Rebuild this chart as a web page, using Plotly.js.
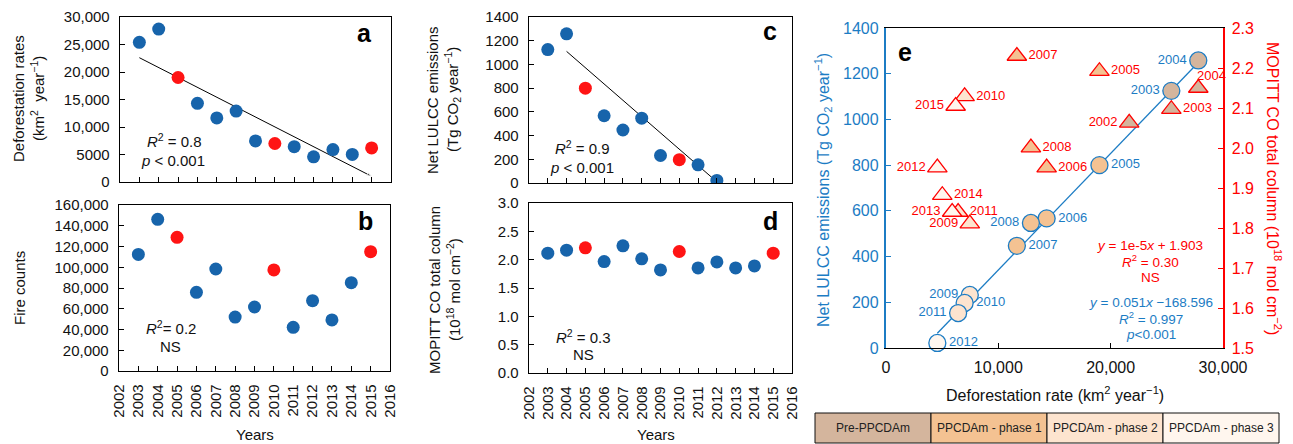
<!DOCTYPE html>
<html><head><meta charset="utf-8">
<script src="https://cdn.plot.ly/plotly-3.0.1.min.js"></script>
<style>html,body{margin:0;padding:0;background:#fff;}#chart{width:1293px;height:444px;}</style>
</head><body><div id="chart"></div>
<script>
// ---------- data ----------
const years = [2003,2004,2005,2006,2007,2008,2009,2010,2011,2012,2013,2014,2015];
const deforestation = [25400,27800,19000,14300,11650,12900,7460,7000,6420,4570,5890,5010,6200];
const fireCounts = [112400,146200,128800,75800,98300,52000,61700,97400,42100,67800,49200,85100,115000];
const coColumn = [2.114,2.167,2.209,1.967,2.244,2.014,1.819,2.144,1.854,1.961,1.854,1.890,2.114];
const lulccYears = [2003,2004,2005,2006,2007,2008,2009,2010,2011,2012];
const lulccEmissions = [1125,1258,800,567,447,547,232,197,153,22];
const highlightYears = [2005,2010,2015];

const eYears = [2002,2003,2004,2005,2006,2007,2008,2009,2010,2011,2012,2013,2014,2015];
const eDeforestation = [21650,25400,27800,19000,14300,11650,12900,7460,7000,6420,4570,5890,5010,6200];
const eCO = [2.063,2.097,2.150,2.192,1.951,2.230,2.001,1.811,2.129,1.840,1.951,1.840,1.882,2.105];
const ePhase = [0,0,0,1,1,1,1,2,2,2,3,3,3,3];
const eCircleYears = [2003,2004,2005,2006,2007,2008,2009,2010,2011,2012];
const eCircleDeforestation = [25400,27800,19000,14300,11650,12900,7460,7000,6420,4570];
const eCircleLulcc = [1125,1258,800,567,447,547,232,197,153,22];
const eCirclePhase = [0,0,1,1,1,1,2,2,2,3];
const eCircleLabelPos = ['middle left','middle left','middle right','middle right','middle right','middle left','middle left','middle right','middle left','middle right'];
const eTriLabelPos = ['middle left','middle right','top right','middle right','middle right','middle right','middle right','middle left','middle right','middle right','middle left','middle left','middle right','middle left'];
const eTriLabelAboveYear = 2004; // this label sits just above its triangle, starting at its centre
const lulccSlope = 0.051, lulccIntercept = -168.596;

// trend of panel c
const trendCYears = [2004, 2012];
const trendCValues = [1110, 10];

// tick labels
const yearTicks = [2002,2003,2004,2005,2006,2007,2008,2009,2010,2011,2012,2013,2014,2015,2016];
const aTickVals = [0,5000,10000,15000,20000,25000,30000];
const aTickText = ['0','5000','10,000','15,000','20,000','25,000','30,000'];
const bTickVals = [0,20000,40000,60000,80000,100000,120000,140000,160000];
const bTickText = ['0','20,000','40,000','60,000','80,000','100,000','120,000','140,000','160,000'];
const cTickVals = [0,200,400,600,800,1000,1200,1400];
const dTickVals = [0,0.5,1,1.5,2,2.5,3];
const eXTickVals = [0,10000,20000,30000];
const eXTickText = ['0','10,000','20,000','30,000'];
const eY2TickVals = [1.5,1.6,1.7,1.8,1.9,2.0,2.1,2.2,2.3];

const phaseNames = ['Pre-PPCDAm','PPCDAm - phase 1','PPCDAm - phase 2','PPCDAm - phase 3'];
const phaseColors = ['#d4b59d','#f4c292','#fde4cf','#fff6ee'];

// ---------- style ----------
const FONT = 'Liberation Sans, Arial, Helvetica, sans-serif';
const BLUE = '#1764ab', RED = '#ff1414';
const EBLUE = '#1c7cc4', ERED = '#ff0000';
const W = 1293, H = 444;
const px = v => v / W, py = v => 1 - v / H;

function fit(xs, ys) {
  const n = xs.length;
  const mx = xs.reduce((a,b)=>a+b,0)/n, my = ys.reduce((a,b)=>a+b,0)/n;
  let sxy = 0, sxx = 0;
  for (let i=0;i<n;i++){ sxy += (xs[i]-mx)*(ys[i]-my); sxx += (xs[i]-mx)**2; }
  const s = sxy/sxx; return {s, b: my - s*mx};
}
const colorFor = ys => ys.map(y => highlightYears.includes(y) ? RED : BLUE);
const fitA = fit(years, deforestation);
const aLineX = [years[0], years[years.length-1]];
const aLineY = aLineX.map(x => fitA.s*x + fitA.b);
const eLineX = [Math.min(...eCircleDeforestation), Math.max(...eCircleDeforestation)];
const eLineY = eLineX.map(x => lulccSlope*x + lulccIntercept);
const aboveIdx = eYears.indexOf(eTriLabelAboveYear);

const dot = (xs, ys, xa, ya) => ({x: xs, y: ys, xaxis: xa, yaxis: ya, type: 'scatter', mode: 'markers',
  marker: {size: 13, color: colorFor(xs), line: {width: 0}}, hoverinfo: 'skip', showlegend: false});

const traces = [
  {x: aLineX, y: aLineY, xaxis: 'x', yaxis: 'y', mode: 'lines+markers', line: {color: '#000', width: 1},
   marker: {symbol: ['circle','arrow'], size: [0.1, 5], angleref: 'previous', color: '#000'}, showlegend: false, hoverinfo: 'skip'},
  dot(years, deforestation, 'x', 'y'),
  dot(years, fireCounts, 'x2', 'y2'),
  {x: trendCYears, y: trendCValues, xaxis: 'x3', yaxis: 'y3', mode: 'lines+markers', line: {color: '#000', width: 1},
   marker: {symbol: ['circle','arrow'], size: [0.1, 7], angleref: 'previous', color: '#000'}, showlegend: false, hoverinfo: 'skip'},
  dot(lulccYears, lulccEmissions, 'x3', 'y3'),
  dot(years, coColumn, 'x4', 'y4'),
  // panel e
  {x: eDeforestation, y: eCO, xaxis: 'x5', yaxis: 'y6', type: 'scatter', mode: 'markers+text',
   marker: {symbol: 'triangle-up', size: 17, color: ePhase.map(p => phaseColors[p]), line: {color: ERED, width: 1.3}},
   text: eYears.map((y, i) => i === aboveIdx ? '' : String(y)), textposition: eTriLabelPos, textfont: {family: FONT, size: 13, color: ERED},
   cliponaxis: false, showlegend: false, hoverinfo: 'skip'},
  {x: eLineX, y: eLineY, xaxis: 'x5', yaxis: 'y5', mode: 'lines', line: {color: EBLUE, width: 1.3}, showlegend: false, hoverinfo: 'skip'},
  {x: eCircleDeforestation, y: eCircleLulcc, xaxis: 'x5', yaxis: 'y5', type: 'scatter', mode: 'markers+text',
   marker: {symbol: 'circle', size: 17, color: eCirclePhase.map(p => phaseColors[p]), line: {color: EBLUE, width: 1.3}},
   text: eCircleYears.map(String), textposition: eCircleLabelPos, textfont: {family: FONT, size: 13, color: EBLUE},
   cliponaxis: false, showlegend: false, hoverinfo: 'skip'}
];

const tf = {family: FONT, size: 15, color: '#111'};
const xBase = (dom, anchor, labels) => ({domain: dom, anchor: anchor, range: [2002, 2016], tickvals: yearTicks,
  ticktext: yearTicks.map(String), showticklabels: labels, tickangle: -90, ticks: 'inside', ticklen: 5, tickwidth: 1,
  tickcolor: '#000', showline: true, mirror: true, linecolor: '#000', linewidth: 1.3, showgrid: false, zeroline: false,
  tickfont: tf, ticklabelstandoff: 6, fixedrange: true});
const yBase = (dom, anchor, range, vals, text, fmt) => ({domain: dom, anchor: anchor, range: range, tickvals: vals,
  ticktext: text, tickformat: fmt, ticks: 'inside', ticklen: 5, tickwidth: 1, tickcolor: '#000', showline: true, mirror: true,
  linecolor: '#000', linewidth: 1.3, showgrid: false, zeroline: false, tickfont: tf, ticklabelstandoff: 6, fixedrange: true});

const abX = [px(120), px(391)], cdX = [px(529), px(792)];
const layout = {
  width: W, height: H, margin: {l: 0, r: 0, t: 0, b: 0}, paper_bgcolor: '#fff', plot_bgcolor: 'rgba(0,0,0,0)',
  font: {family: FONT, color: '#111'}, showlegend: false,
  xaxis: xBase(abX, 'y', false),
  yaxis: yBase([py(182), py(17)], 'x', [0, 30000], aTickVals, aTickText),
  xaxis2: xBase([px(119), px(390)], 'y2', true),
  yaxis2: yBase([py(371), py(205)], 'x2', [0, 160000], bTickVals, bTickText),
  xaxis3: xBase(cdX, 'y3', false),
  yaxis3: yBase([py(183), py(17)], 'x3', [0, 1400], cTickVals, cTickVals.map(String)),
  xaxis4: xBase(cdX, 'y4', true),
  yaxis4: yBase([py(373), py(203)], 'x4', [0, 3], dTickVals, dTickVals.map(v => v.toFixed(1))),
  xaxis5: {domain: [px(886), px(1223)], anchor: 'y5', range: [0, 30000], tickvals: eXTickVals, ticktext: eXTickText,
    ticks: 'inside', ticklen: 5, tickcolor: '#000', showline: true, mirror: true, linecolor: '#000', linewidth: 1.3,
    showgrid: false, zeroline: false, tickfont: {family: FONT, size: 16, color: '#111'}, ticklabelstandoff: 4, fixedrange: true},
  yaxis5: {domain: [py(348), py(28)], anchor: 'x5', range: [0, 1400], tickvals: cTickVals, ticks: 'inside', ticklen: 5,
    tickcolor: EBLUE, showline: true, linecolor: EBLUE, linewidth: 2.2, showgrid: false, zeroline: false,
    tickfont: {family: FONT, size: 16, color: EBLUE}, ticklabelstandoff: 2, fixedrange: true},
  yaxis6: {overlaying: 'y5', side: 'right', anchor: 'x5', range: [1.5, 2.3], tickvals: eY2TickVals,
    ticktext: eY2TickVals.map(v => v.toFixed(1)), ticks: 'inside', ticklen: 5, tickcolor: ERED, showline: true,
    linecolor: ERED, linewidth: 1.5, showgrid: false, zeroline: false, tickfont: {family: FONT, size: 16, color: ERED},
    ticklabelstandoff: 4, fixedrange: true},
  shapes: [], annotations: []
};

const ann = (x, y, text, opt) => Object.assign({xref: 'paper', yref: 'paper', x: px(x), y: py(y), text: text,
  showarrow: false, xanchor: 'center', yanchor: 'middle', font: {family: FONT, size: 15, color: '#111'}}, opt || {});
const A = layout.annotations;
// label of the 2004 triangle, tied to its data point
A.push({xref: 'x5', yref: 'y6', x: eDeforestation[aboveIdx], y: eCO[aboveIdx], text: String(eYears[aboveIdx]),
  showarrow: false, xanchor: 'left', yanchor: 'middle', xshift: -3, yshift: 13, font: {family: FONT, size: 13, color: ERED}});
// panel letters
[['a',364,33],['b',365,221],['c',770,31],['d',770,221],['e',905,52]].forEach(([t,x,y]) =>
  A.push(ann(x, y, '<b>' + t + '</b>', {font: {family: FONT, size: 25, color: '#000'}})));
// stats
A.push(ann(174, 140, '<i>R</i><sup>2</sup> = 0.8'));
A.push(ann(173, 161, '<i>p</i> &lt; 0.001'));
A.push(ann(171, 327, '<i>R</i><sup>2</sup>= 0.2'));
A.push(ann(170, 346, 'NS'));
A.push(ann(582, 147, '<i>R</i><sup>2</sup> = 0.9'));
A.push(ann(582, 167, '<i>p</i> &lt; 0.001'));
A.push(ann(583, 336, '<i>R</i><sup>2</sup> = 0.3'));
A.push(ann(583, 354, 'NS'));
// axis titles a-d
const vt = (x, y, text) => ann(x, y, text, {textangle: -90});
A.push(vt(18, 99, 'Deforestation rates'));
A.push(vt(37, 99, '(km<sup>2</sup>  year<sup>−1</sup>)'));
A.push(vt(19, 288, 'Fire counts'));
A.push(vt(432, 100, 'Net LULCC emissions'));
A.push(vt(452, 100, '(Tg CO<sub>2</sub> year<sup>−1</sup>)'));
A.push(vt(434, 290, 'MOPITT CO total column'));
A.push(vt(453, 290, '(10<sup>18</sup> mol cm<sup>−2</sup>)'));
A.push(ann(255, 434, 'Years'));
A.push(ann(656, 434, 'Years'));
// panel e titles
A.push(ann(823, 190, 'Net LULCC emissions (Tg CO<sub>2</sub> year<sup>−1</sup>)', {textangle: -90, font: {family: FONT, size: 16, color: EBLUE}}));
A.push(ann(1274, 188, 'MOPITT CO total column (10<sup>18</sup> mol cm<sup>−2</sup>)', {textangle: 90, font: {family: FONT, size: 16, color: ERED}}));
A.push(ann(1055, 394, 'Deforestation rate (km<sup>2</sup> year<sup>−1</sup>)', {font: {family: FONT, size: 16, color: '#111'}}));
// equations
const eqR = {font: {family: FONT, size: 13.5, color: ERED}}, eqB = {font: {family: FONT, size: 13.5, color: EBLUE}};
A.push(ann(1150, 245, '<i>y</i> = 1e-5<i>x</i> + 1.903', eqR));
A.push(ann(1150, 261, '<i>R</i><sup>2</sup> = 0.30', eqR));
A.push(ann(1150, 277, 'NS', eqR));
A.push(ann(1151, 302, '<i>y</i> = 0.051<i>x</i> −168.596', eqB));
A.push(ann(1151, 318, '<i>R</i><sup>2</sup> = 0.997', eqB));
A.push(ann(1151, 334, '<i>p</i>&lt;0.001', eqB));
// phase legend
const boxEdges = [815, 931, 1047, 1163, 1279];
phaseNames.forEach((name, i) => {
  layout.shapes.push({type: 'rect', xref: 'paper', yref: 'paper', x0: px(boxEdges[i]), x1: px(boxEdges[i+1]),
    y0: py(443), y1: py(413), fillcolor: phaseColors[i], line: {color: '#111', width: 1}});
  A.push(ann((boxEdges[i] + boxEdges[i+1]) / 2, 428, name, {font: {family: FONT, size: 12, color: '#222'}}));
});

Plotly.newPlot('chart', traces, layout, {staticPlot: true, displayModeBar: false});
</script></body></html>
